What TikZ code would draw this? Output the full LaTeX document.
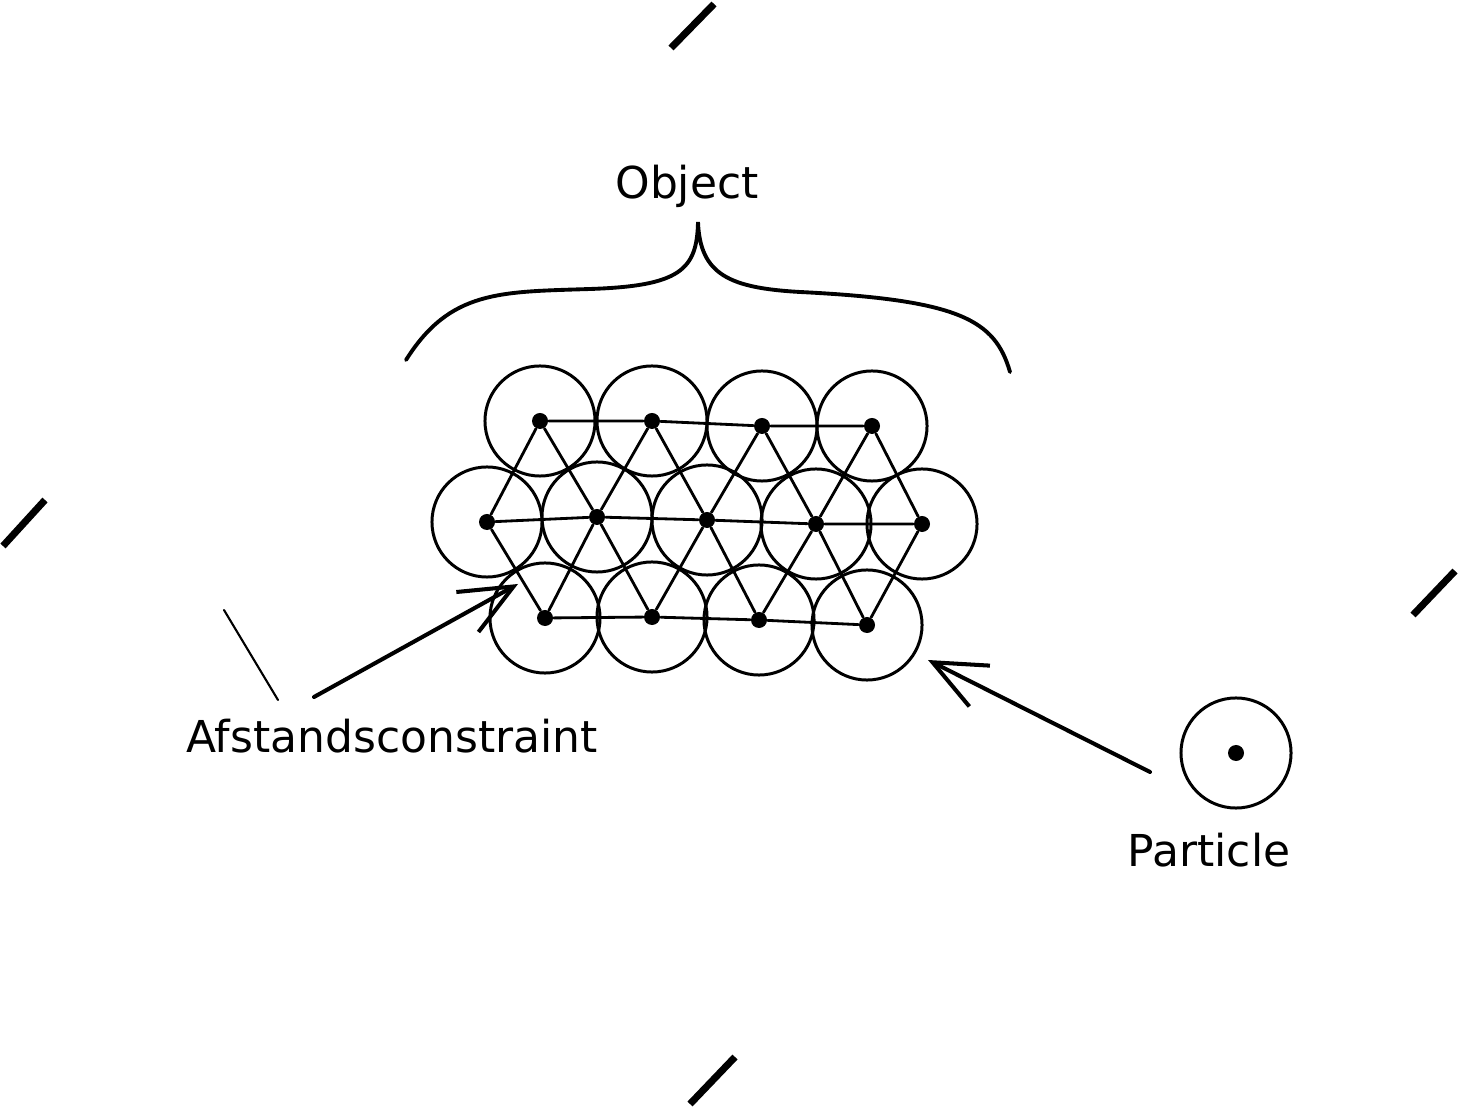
\documentclass[tikz,border=0pt]{standalone}
\usepackage{fontspec}
\setmainfont{DejaVu Sans}
\usetikzlibrary{arrows.meta}

\tikzset{
    dot/.style={circle, fill=black, inner sep=0pt, minimum size=0.16cm},
    lbl/.style={anchor=base, inner sep=0pt, font=\fontsize{12.5}{15}\selectfont},
    bond/.style={line width=0.8pt},
    pointer/.style={line width=1.15pt, -{Straight Barb[length=15pt, width=13pt]}},
    tick/.style={line width=2pt}
}

\begin{document}
\begin{tikzpicture}[x=0.01cm, y=-0.01cm, line cap=round]
    \useasboundingbox (0,0) rectangle (1458,1107);
    \def\R{0.55cm} % Sugár

    % Részecskék (rács)
    \node[dot] (t1) at (540,421) {};
    \node[dot] (t2) at (652,421) {};
    \node[dot] (t3) at (762,426) {};
    \node[dot] (t4) at (872,426) {};
    \node[dot] (m1) at (487,522) {};
    \node[dot] (m2) at (597,517) {};
    \node[dot] (m3) at (707,520) {};
    \node[dot] (m4) at (816,524) {};
    \node[dot] (m5) at (922,524) {};
    \node[dot] (b1) at (545,618) {};
    \node[dot] (b2) at (652,617) {};
    \node[dot] (b3) at (759,620) {};
    \node[dot] (b4) at (867,625) {};

    % Körök
    \foreach \n in {t1,t2,t3,t4,m1,m2,m3,m4,m5,b1,b2,b3,b4}
        \draw[line width=0.85pt] (\n) circle (\R);

    % Kényszerek
    \draw[bond] (t1) -- (t2) -- (t3) -- (t4);
    \draw[bond] (m1) -- (m2) -- (m3) -- (m4) -- (m5);
    \draw[bond] (b1) -- (b2) -- (b3) -- (b4);
    \foreach \i [evaluate=\i as \j using int(\i+1)] in {1,...,4} {
        \draw[bond] (m\i) -- (t\i) -- (m\j);
        \draw[bond] (m\i) -- (b\i) -- (m\j);
    }

    % Kapcsos zárójel
    \draw[line width=1.1pt] (406,360) .. controls (450,290) and (500,292) .. (590,289)
        .. controls (680,286) and (697,270) .. (698,222)
        .. controls (700,275) and (730,288) .. (800,292)
        .. controls (960,300) and (995,320) .. (1010,372);
    \node[lbl] (object) at (687,199) {Object};

    % Részecske
    \node[dot] (p) at (1236,753) {};
    \draw[line width=0.85pt] (p) circle (\R);
    \node[lbl] (particle) at (1209,866) {Particle};

    % Feliratok, nyilak
    \node[lbl] (afstand) at (392,752) {Afstandsconstraint};
    \coordinate (a0) at (314,697);
    \coordinate (a1) at (518,584);
    \draw[pointer] (a0) -- (a1);
    \coordinate (p0) at (1150,772);
    \coordinate (p1) at (928,660);
    \draw[pointer] (p0) -- (p1);
    \coordinate (s0) at (224,610);
    \coordinate (s1) at (278,700);
    \draw[line width=0.6pt] (s0) -- (s1);

    % Jelölők
    \draw[tick, line cap=butt] (671,48) -- (714,4);
    \draw[tick, line cap=butt] (3,546) -- (45,500);
    \draw[tick, line cap=butt] (1413,615) -- (1455,571);
    \draw[tick, line cap=butt] (690,1104) -- (735,1057);
\end{tikzpicture}
\end{document}
